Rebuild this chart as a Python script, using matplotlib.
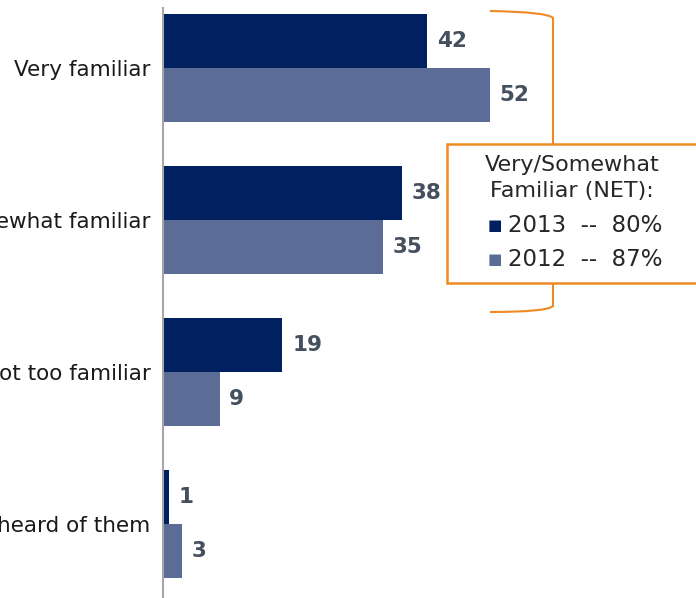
import matplotlib.pyplot as plt
import matplotlib.patches as patches
from matplotlib.path import Path
import numpy as np

# Familiarity levels and survey shares (%)
categories = ['Very familiar', 'Somewhat familiar', 'Not too familiar', 'Never heard of them']
vals_2013 = [42, 38, 19, 1]
vals_2012 = [52, 35, 9, 3]
net_lines = ['2013  --  80%', '2012  --  87%']

c2013 = '#00205F'
c2012 = '#5B6D96'
orange = '#EE8A22'
label_col = '#44505E'

W, H = 696, 598
fig = plt.figure(figsize=(W / 100, H / 100), dpi=100)
ax = fig.add_axes([163 / W, 0, (W - 163) / W, 590 / H])

y = np.arange(len(categories))
h = 0.354
ax.barh(y - h / 2, vals_2013, height=h, color=c2013)
ax.barh(y + h / 2, vals_2012, height=h, color=c2012)

for i in range(len(categories)):
    for v, off in ((vals_2013[i], -h / 2), (vals_2012[i], h / 2)):
        ax.annotate(str(v), (v, y[i] + off), xytext=(7, 0), textcoords='offset points',
                    va='center', ha='left', fontsize=15.5, fontweight='bold', color=label_col)

ax.set_xlim(0, (W - 163) / 6.286)
ax.set_ylim(3.485, -0.393)
ax.set_yticks(y)
ax.set_yticklabels(categories, fontsize=15.5, color='#1a1a1a')
ax.tick_params(axis='y', length=0, pad=9)
ax.set_xticks([])
for s in ['top', 'right', 'bottom']:
    ax.spines[s].set_visible(False)
ax.spines['left'].set_color('#A6A6A6')
ax.spines['left'].set_linewidth(1.5)


def px(x, yy):
    return (x / W, 1 - yy / H)


# bracket around the top two groups
verts = [px(490, 11), px(548, 12), px(553, 18), px(553, 150),
         px(553, 150), px(553, 306), px(548, 312), px(490, 312)]
codes = [Path.MOVETO, Path.CURVE3, Path.CURVE3, Path.LINETO,
         Path.MOVETO, Path.LINETO, Path.CURVE3, Path.CURVE3]
fig.add_artist(patches.PathPatch(Path(verts, codes), fill=False, edgecolor=orange,
                                 lw=1.5, transform=fig.transFigure))

# NET callout box
x0, y0 = px(447, 283)
x1, y1 = px(700, 144)
fig.add_artist(patches.Rectangle((x0, y0), x1 - x0, y1 - y0, facecolor='white',
                                 edgecolor=orange, lw=1.8, transform=fig.transFigure))
fig.text(*px(572, 165), 'Very/Somewhat', ha='center', va='center', fontsize=16, color='#262626')
fig.text(*px(572, 191), 'Familiar (NET):', ha='center', va='center', fontsize=16, color='#262626')
for k, (txt, col) in enumerate(zip(net_lines, [c2013, c2012])):
    yy = 225 + k * 34
    fig.text(*px(495, yy), '■', ha='center', va='center', fontsize=11, color=col)
    fig.text(*px(508, yy), txt, ha='left', va='center', fontsize=16.5, color='#262626')

fig.savefig('out.png', dpi=100)
